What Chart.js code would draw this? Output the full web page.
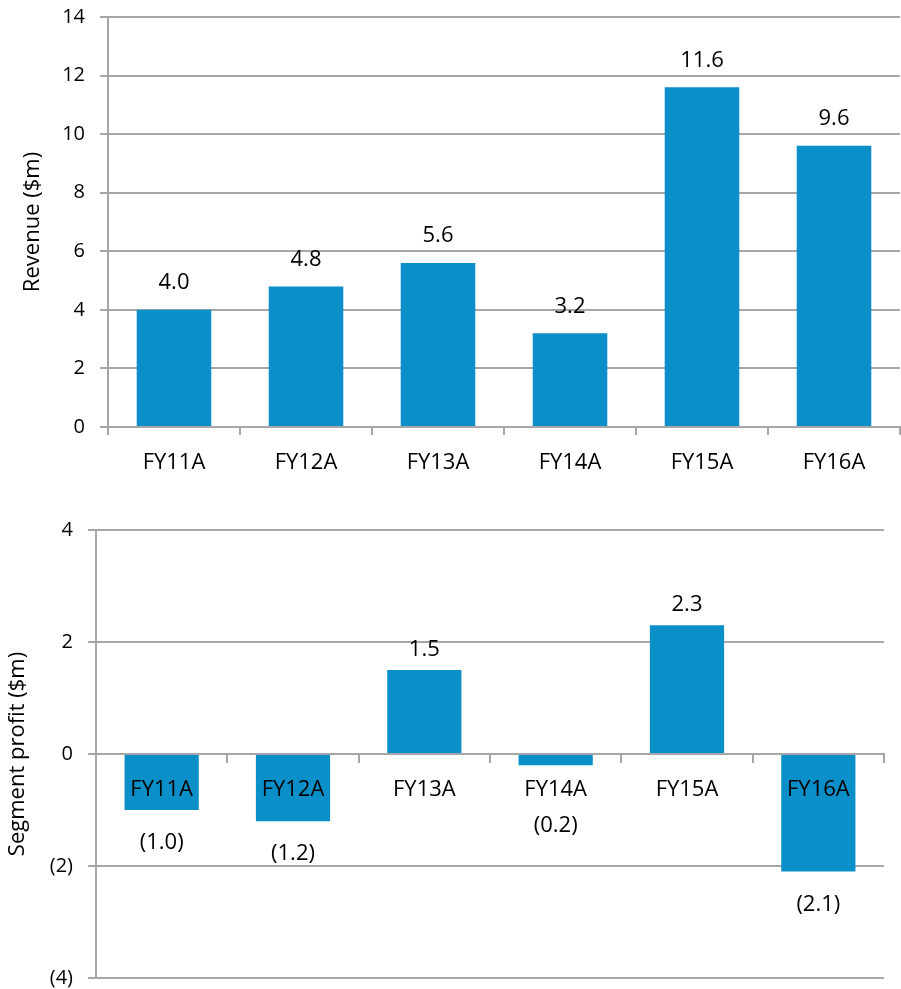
<!DOCTYPE html>
<html lang="en">
  <head>
    <meta charset="UTF-8" />
    <title>Revenue and segment profit</title>
    <script src="https://cdn.jsdelivr.net/npm/chart.js@4"></script>
    <style>
      body {
        margin: 0;
        background: #fff;
        font-family: "Open Sans", sans-serif;
        overflow: hidden;
      }
      .box {
        position: absolute;
        left: 0;
        width: 901px;
      }
      #top {
        top: 0;
        height: 470px;
      }
      #bottom {
        top: 500px;
        height: 489px;
      }
    </style>
  </head>
  <body>
    <div class="box" id="top"><canvas id="revenueChart"></canvas></div>
    <div class="box" id="bottom"><canvas id="profitChart"></canvas></div>
    <script>
      const years = ["FY11A", "FY12A", "FY13A", "FY14A", "FY15A", "FY16A"];
      const revenue = [4.0, 4.8, 5.6, 3.2, 11.6, 9.6];
      const segmentProfit = [-1.0, -1.2, 1.5, -0.2, 2.3, -2.1];

      const barColor = "#0A8FC8";
      const gridColor = "#A6A6A6";
      const fontName = '"Open Sans", sans-serif';

      // 4.0 / (1.0) style, like the source sheet
      const fmt = (v, digits) => {
        const s = Math.abs(v).toFixed(digits);
        return v < 0 ? "(" + s + ")" : s;
      };

      // value labels placed from the bar elements the library laid out
      const valueLabels = {
        id: "valueLabels",
        afterDatasetsDraw(chart, args, opts) {
          const ctx = chart.ctx;
          const meta = chart.getDatasetMeta(0);
          const zeroY = chart.scales.y.getPixelForValue(0);
          ctx.save();
          ctx.font = "22px " + fontName;
          ctx.fillStyle = "#000";
          ctx.textAlign = "center";
          ctx.textBaseline = "middle";
          meta.data.forEach((bar, i) => {
            const v = chart.data.datasets[0].data[i];
            let y;
            if (v >= 0) {
              y = bar.y - opts.above;
            } else {
              y = Math.max(bar.y + opts.below, zeroY + opts.minBelow);
            }
            ctx.fillText(fmt(v, 1), bar.x, y);
          });
          ctx.restore();
        },
      };

      function makeChart(id, values, opts) {
        return new Chart(document.getElementById(id), {
          type: "bar",
          data: {
            labels: years,
            datasets: [
              {
                data: values,
                backgroundColor: barColor,
                borderWidth: 0,
                categoryPercentage: 1,
                barPercentage: 0.565,
              },
            ],
          },
          plugins: [valueLabels],
          options: {
            responsive: true,
            maintainAspectRatio: false,
            animation: false,
            layout: { padding: opts.padding },
            plugins: {
              legend: { display: false },
              tooltip: { enabled: false },
              valueLabels: opts.labels,
            },
            scales: {
              x: {
                position: opts.xPosition,
                grid: {
                  drawOnChartArea: false,
                  drawTicks: true,
                  tickLength: 8,
                  color: gridColor,
                  lineWidth: 2,
                },
                border: { color: gridColor, width: 2 },
                ticks: {
                  z: opts.xZ,
                  color: "#000",
                  font: { family: fontName, size: 22 },
                  padding: 15,
                  maxRotation: 0,
                },
                afterFit: (scale) => {
                  scale.height = opts.xHeight;
                },
              },
              y: {
                min: opts.min,
                max: opts.max,
                grid: {
                  color: gridColor,
                  lineWidth: 2,
                  tickLength: 8,
                },
                border: { color: gridColor, width: 2 },
                ticks: {
                  stepSize: 2,
                  color: "#000",
                  font: { family: fontName, size: 20 },
                  padding: 15,
                  callback: (v) => fmt(v, 0),
                },
                title: {
                  display: true,
                  text: opts.title,
                  color: "#000",
                  font: { family: fontName, size: 22 },
                  padding: { top: opts.titlePad, bottom: 0 },
                },
                afterFit: (scale) => {
                  scale.width = opts.yWidth;
                  // let layout.padding alone decide the top/bottom gap
                  scale.paddingTop = 0;
                  scale.paddingBottom = 0;
                },
              },
            },
          },
        });
      }

      makeChart("revenueChart", revenue, {
        min: 0,
        max: 14,
        title: "Revenue ($m)",
        titlePad: 20,
        yWidth: 108,
        xHeight: 43,
        xPosition: "bottom",
        xZ: 0,
        padding: { top: 17, right: 1, left: 0, bottom: 0 },
        labels: { above: 27, below: 33, minBelow: 0 },
      });

      makeChart("profitChart", segmentProfit, {
        min: -4,
        max: 4,
        title: "Segment profit ($m)",
        titlePad: 5,
        yWidth: 96,
        xHeight: 0,
        xPosition: { y: 0 },
        xZ: 1,
        padding: { top: 30, right: 17, left: 0, bottom: 11 },
        labels: { above: 20, below: 33, minBelow: 72 },
      });
    </script>
  </body>
</html>
